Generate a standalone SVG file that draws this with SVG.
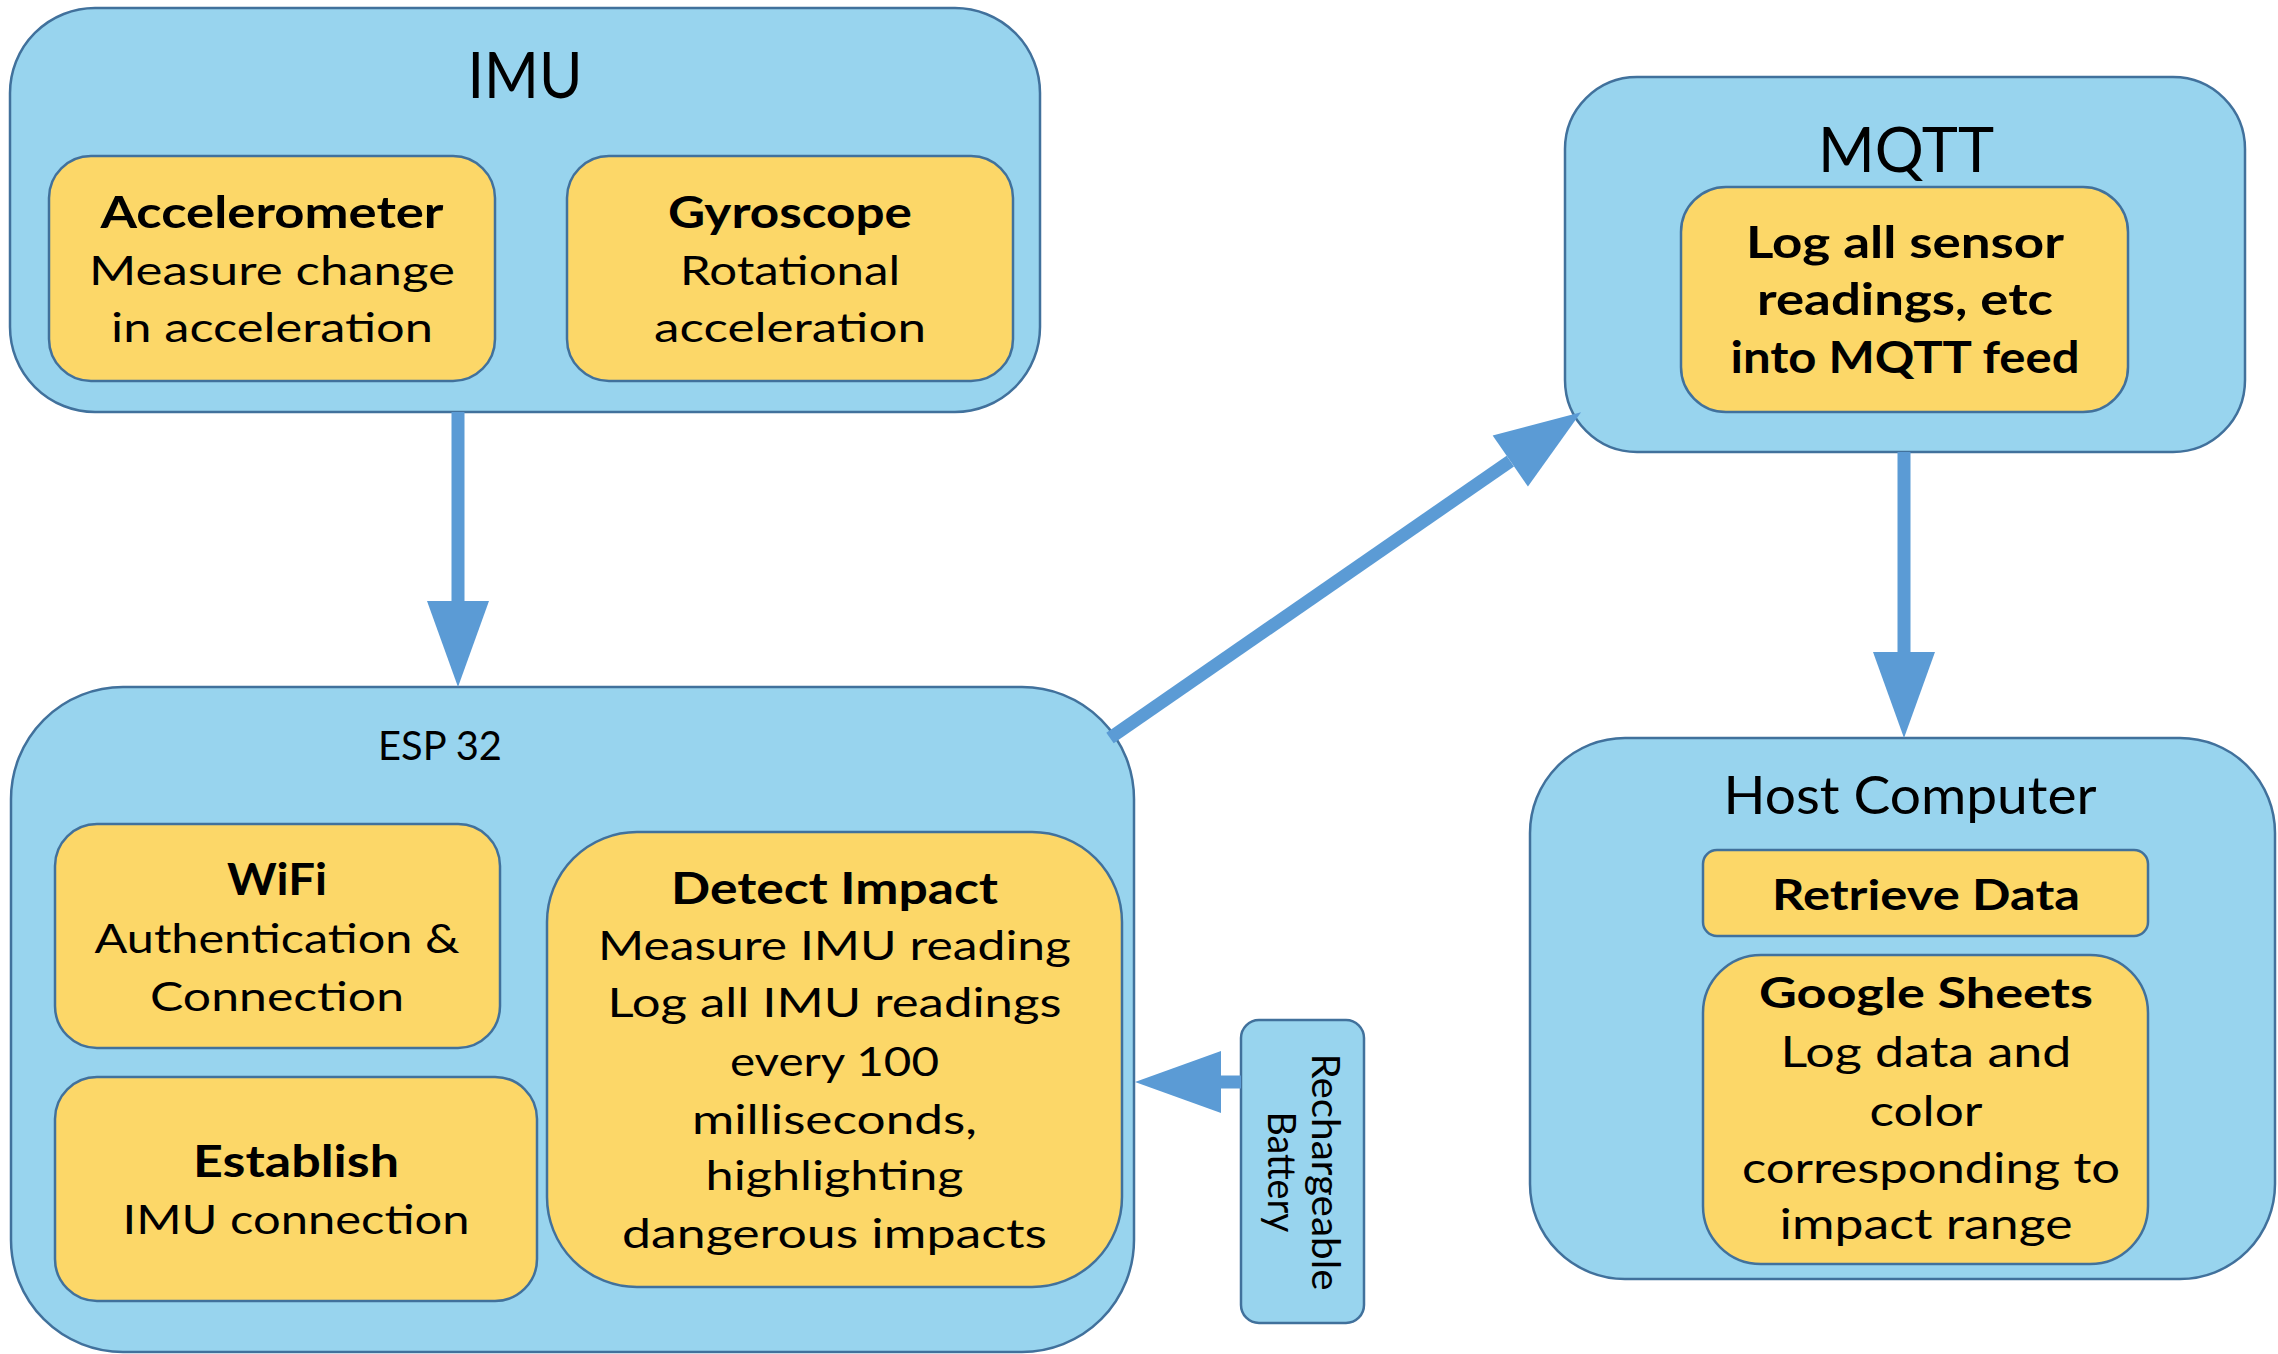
<svg xmlns="http://www.w3.org/2000/svg" width="2278" height="1354" viewBox="0 0 2278 1354">
<defs>
<style>
.outer{fill:#98D4EE;stroke:#41719C;stroke-width:2.5}
.inner{fill:#FCD768;stroke:#41719C;stroke-width:2.5}
text{font-family:Lato,"Liberation Sans",sans-serif;fill:#000;text-anchor:middle}
.b{font-weight:bold;font-size:44px}
.r{font-size:40px}
.hb{font-weight:bold;font-size:42px}
.hr{font-size:42px}
.conn{fill:none;stroke:#5B9BD5;stroke-width:13;stroke-linecap:butt}
</style>
<marker id="ah" markerUnits="userSpaceOnUse" markerWidth="86" markerHeight="64" viewBox="0 0 86 64" refX="0" refY="32" orient="auto" overflow="visible">
<path d="M0,1 L86,32 L0,63 Z" fill="#5B9BD5"/>
</marker>
</defs>

<g id="imu">
<rect class="outer" x="10" y="8" width="1030" height="404" rx="85"/>
<text x="525" y="98" font-size="63" textLength="115" lengthAdjust="spacingAndGlyphs">IMU</text>
</g>
<g id="accelerometer">
<rect class="inner" x="49" y="156" width="446" height="225" rx="42"/>
<text class="b" x="272" y="228" textLength="343" lengthAdjust="spacingAndGlyphs">Accelerometer</text>
<text class="r" x="272" y="285" textLength="366" lengthAdjust="spacingAndGlyphs">Measure change</text>
<text class="r" x="272" y="342" textLength="322" lengthAdjust="spacingAndGlyphs">in acceleration</text>
</g>
<g id="gyroscope">
<rect class="inner" x="567" y="156" width="446" height="225" rx="42"/>
<text class="b" x="790" y="228" textLength="244" lengthAdjust="spacingAndGlyphs">Gyroscope</text>
<text class="r" x="790" y="285" textLength="220" lengthAdjust="spacingAndGlyphs">Rotational</text>
<text class="r" x="790" y="342" textLength="272" lengthAdjust="spacingAndGlyphs">acceleration</text>
</g>

<g id="mqtt">
<rect class="outer" x="1565" y="77" width="680" height="375" rx="72"/>
<text x="1906" y="172" font-size="61" textLength="176" lengthAdjust="spacingAndGlyphs">MQTT</text>
</g>
<g id="mqtt-log">
<rect class="inner" x="1681" y="187" width="447" height="225" rx="45"/>
<text class="b" x="1905" y="258" textLength="318" lengthAdjust="spacingAndGlyphs">Log all sensor</text>
<text class="b" x="1905" y="315" textLength="296" lengthAdjust="spacingAndGlyphs">readings, etc</text>
<text class="b" x="1905" y="373" textLength="349" lengthAdjust="spacingAndGlyphs">into MQTT feed</text>
</g>

<g id="esp32">
<rect class="outer" x="11" y="687" width="1123" height="665" rx="112"/>
<text x="378" y="760" font-size="40" style="text-anchor:start" textLength="124" lengthAdjust="spacingAndGlyphs">ESP 32</text>
</g>
<g id="wifi">
<rect class="inner" x="55" y="824" width="445" height="224" rx="42"/>
<text class="b" x="277" y="895" textLength="100" lengthAdjust="spacingAndGlyphs">WiFi</text>
<text class="r" x="277" y="953" textLength="365" lengthAdjust="spacingAndGlyphs">Authentication &amp;</text>
<text class="r" x="277" y="1011" textLength="254" lengthAdjust="spacingAndGlyphs">Connection</text>
</g>
<g id="establish">
<rect class="inner" x="55" y="1077" width="482" height="224" rx="42"/>
<text class="b" x="296" y="1177" textLength="206" lengthAdjust="spacingAndGlyphs">Establish</text>
<text class="r" x="296" y="1234" textLength="347" lengthAdjust="spacingAndGlyphs">IMU connection</text>
</g>
<g id="detect-impact">
<rect class="inner" x="547" y="832" width="575" height="455" rx="90"/>
<text class="b" x="834.5" y="904" textLength="327" lengthAdjust="spacingAndGlyphs">Detect Impact</text>
<text class="r" x="834.5" y="960" textLength="473" lengthAdjust="spacingAndGlyphs">Measure IMU reading</text>
<text class="r" x="834.5" y="1017" textLength="454" lengthAdjust="spacingAndGlyphs">Log all IMU readings</text>
<text class="r" x="834.5" y="1076" textLength="209" lengthAdjust="spacingAndGlyphs">every 100</text>
<text class="r" x="834.5" y="1134" textLength="285" lengthAdjust="spacingAndGlyphs">milliseconds,</text>
<text class="r" x="834.5" y="1190" textLength="258" lengthAdjust="spacingAndGlyphs">highlighting</text>
<text class="r" x="834.5" y="1248" textLength="425" lengthAdjust="spacingAndGlyphs">dangerous impacts</text>
</g>

<g id="host-computer">
<rect class="outer" x="1530" y="738" width="745" height="541" rx="95"/>
<text x="1910" y="814" font-size="53" textLength="373" lengthAdjust="spacingAndGlyphs">Host Computer</text>
</g>
<g id="retrieve-data">
<rect class="inner" x="1703" y="850" width="445" height="86" rx="14"/>
<text class="hb" x="1926" y="910" textLength="308" lengthAdjust="spacingAndGlyphs">Retrieve Data</text>
</g>
<g id="google-sheets">
<rect class="inner" x="1703" y="955" width="445" height="309" rx="58"/>
<text class="hb" x="1926" y="1008" textLength="334" lengthAdjust="spacingAndGlyphs">Google Sheets</text>
<text class="hr" x="1926" y="1067" textLength="291" lengthAdjust="spacingAndGlyphs">Log data and</text>
<text class="hr" x="1926" y="1126" textLength="113" lengthAdjust="spacingAndGlyphs">color</text>
<text class="hr" x="1931" y="1183" textLength="378" lengthAdjust="spacingAndGlyphs">corresponding to</text>
<text class="hr" x="1926" y="1239" textLength="293" lengthAdjust="spacingAndGlyphs">impact range</text>
</g>

<g id="battery">
<rect class="outer" x="1241" y="1020" width="123" height="303" rx="18"/>
<g transform="rotate(90 1290 1172)">
<text x="1290" y="1150" font-size="39" textLength="237" lengthAdjust="spacingAndGlyphs">Rechargeable</text>
<text x="1290" y="1194" font-size="39" textLength="121" lengthAdjust="spacingAndGlyphs">Battery</text>
</g>
</g>

<g id="connectors">
<line class="conn" x1="458" y1="412" x2="458" y2="601" marker-end="url(#ah)"/>
<line class="conn" x1="1110" y1="738" x2="1510.3" y2="461.1" marker-end="url(#ah)"/>
<line class="conn" x1="1904" y1="452" x2="1904" y2="652" marker-end="url(#ah)"/>
<line class="conn" x1="1241" y1="1082" x2="1221" y2="1082" marker-end="url(#ah)"/>
</g>
</svg>
